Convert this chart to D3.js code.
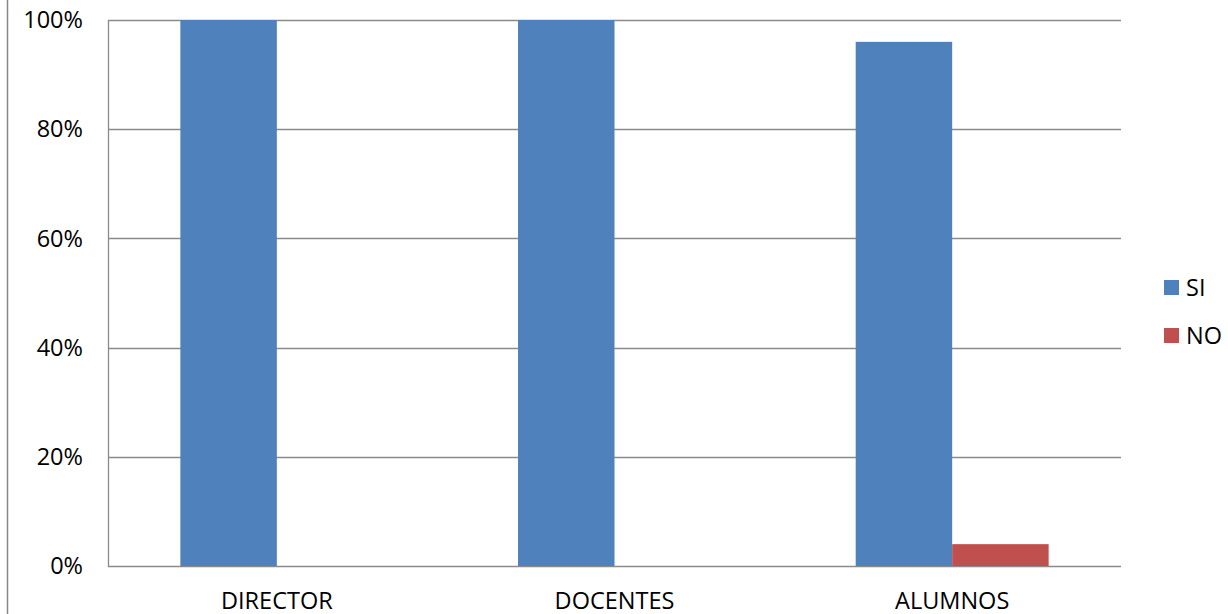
<!DOCTYPE html>
<html><head><meta charset="utf-8">
<script src="https://cdn.jsdelivr.net/npm/d3@7"></script>
<style>body{margin:0;background:#fff}svg{display:block}text{font-family:"Open Sans",sans-serif;fill:#000}</style>
</head><body><svg id="c" width="1228" height="614"></svg>
<script>
const categories = ["DIRECTOR","DOCENTES","ALUMNOS"];
const seriesNames = ["SI","NO"];
const siValues = [100,100,96];
const noValues = [0,0,4];
const yTicks = [0,20,40,60,80,100];
const colors = {SI:"#4f81bd", NO:"#c0504d"};

const svg = d3.select("#c");
const L=108, R=1121, T=20, B=566;
const x0 = d3.scaleBand().domain(categories).range([L,R]).paddingInner(0).paddingOuter(0);
const bw = x0.bandwidth()/3.5;
const x1 = d3.scaleBand().domain(seriesNames).range([0, bw*2]);
const y = d3.scaleLinear().domain([0,100]).range([B,T]);

svg.append("line").attr("x1",7.5).attr("x2",7.5).attr("y1",0).attr("y2",614).attr("stroke","#878787").attr("stroke-width",1.5);

svg.append("g").selectAll("line").data(yTicks).join("line")
 .attr("x1",L).attr("x2",R).attr("y1",d=>Math.round(y(d))+0.5).attr("y2",d=>Math.round(y(d))+0.5)
 .attr("stroke","#8a8a8a").attr("stroke-width",1.3);
svg.append("line").attr("x1",L+0.5).attr("x2",L+0.5).attr("y1",T).attr("y2",B+1).attr("stroke","#8a8a8a").attr("stroke-width",1.3);

const data = categories.map((c,i)=>({c, vals:[{s:"SI",v:siValues[i]},{s:"NO",v:noValues[i]}]}));
const g = svg.append("g").selectAll("g").data(data).join("g")
 .attr("transform",d=>`translate(${x0(d.c)+bw*0.75},0)`);
g.selectAll("rect").data(d=>d.vals.filter(v=>v.v>0)).join("rect")
 .attr("x",d=>x1(d.s)).attr("width",x1.bandwidth())
 .attr("y",d=>y(d.v)).attr("height",d=>B-y(d.v))
 .attr("fill",d=>colors[d.s]);

svg.append("g").selectAll("text").data(yTicks).join("text")
 .attr("x",83).attr("y",d=>y(d)).attr("dy","0.35em").attr("text-anchor","end")
 .attr("font-size",23.5).text(d=>d+"%");
svg.append("g").selectAll("text").data(categories).join("text")
 .attr("x",d=>x0(d)+x0.bandwidth()/2).attr("y",601).attr("dy","0.35em").attr("text-anchor","middle")
 .attr("font-size",23.5).text(d=>d);

const lg = svg.append("g").selectAll("g").data(seriesNames).join("g")
 .attr("transform",(d,i)=>`translate(1164,${280+i*48})`);
lg.append("rect").attr("width",15).attr("height",15).attr("fill",d=>colors[d]);
lg.append("text").attr("x",22).attr("y",8).attr("dy","0.35em").attr("font-size",23.5).text(d=>d);
</script></body></html>
